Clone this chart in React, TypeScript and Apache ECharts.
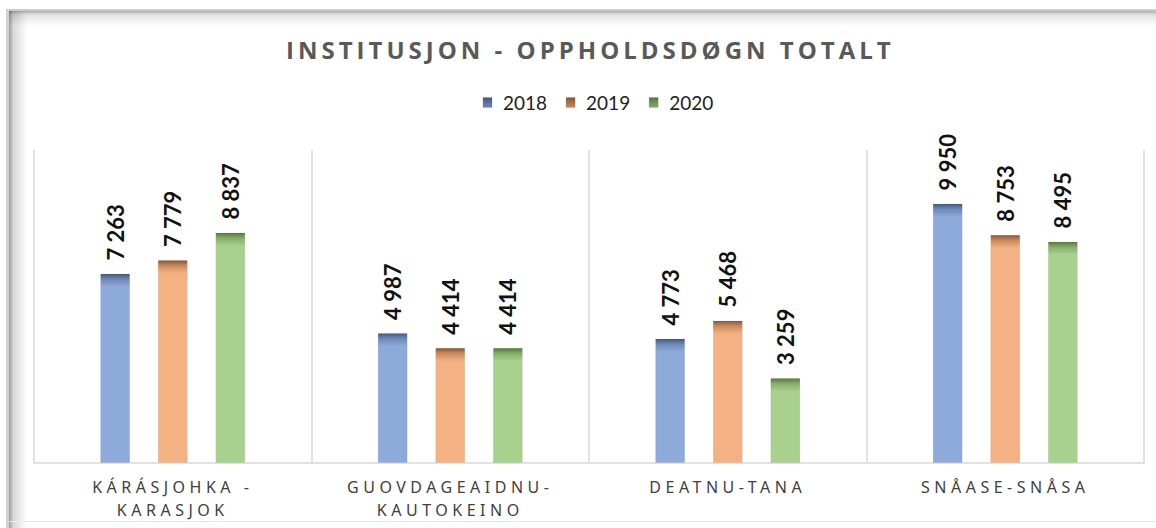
import React, { useEffect, useRef } from "react";
import * as echarts from "echarts";

const titleText = "INSTITUSJON - OPPHOLDSDØGN TOTALT";
const categories = ["KÁRÁSJOHKA -\nKARASJOK", "GUOVDAGEAIDNU-\nKAUTOKEINO", "DEATNU-TANA", "SNÅASE-SNÅSA"];
const years = ["2018", "2019", "2020"];
const values2018 = [7263, 4987, 4773, 9950];
const values2019 = [7779, 4414, 5468, 8753];
const values2020 = [8837, 4414, 3259, 8495];
const seriesValues = [values2018, values2019, values2020];

const yMax = 12000;
const gridTop = 150;
const gridBottom = 65;
const chartH = 528;
const plotH = chartH - gridTop - gridBottom;

const palettes = [
  { dark: "#46597f", mid: "#6f88b8", main: "#8eaadb" },
  { dark: "#8a5636", mid: "#c98a5e", main: "#f4b183" },
  { dark: "#557a3d", mid: "#86ad6c", main: "#a9d18e" },
];

const fmt = (v: number) => String(v).replace(/\B(?=(\d{3})+(?!\d))/g, " ");

function barGradient(v: number, p: { dark: string; mid: string; main: string }) {
  const px = (v / yMax) * plotH;
  const f = Math.min(1, 13 / px);
  return new echarts.graphic.LinearGradient(0, 0, 0, 1, [
    { offset: 0, color: p.dark },
    { offset: f * 0.4, color: p.mid },
    { offset: f, color: p.main },
    { offset: 1, color: p.main },
  ]);
}

export default function App() {
  const ref = useRef<HTMLDivElement>(null);
  useEffect(() => {
    if (!ref.current) return;
    const chart = echarts.init(ref.current, undefined, { renderer: "svg" });
    const series = years.map((y, si) => ({
      name: y,
      type: "bar",
      barWidth: 30,
      barGap: "92%",
      itemStyle: {
        color: new echarts.graphic.LinearGradient(0, 0, 0, 1, [
          { offset: 0, color: palettes[si].dark },
          { offset: 1, color: palettes[si].mid },
        ]),
        borderColor: "rgba(0,0,0,0.06)",
        borderWidth: 1,
      },
      label: {
        show: true,
        position: "top",
        rotate: 90,
        align: "left",
        verticalAlign: "middle",
        distance: 13,
        fontFamily: "Lato",
        fontWeight: "bold",
        fontSize: 22,
        color: "#111111",
        formatter: (p: any) => fmt(p.value),
      },
      data: seriesValues[si].map((v) => ({
        value: v,
        itemStyle: { color: barGradient(v, palettes[si]) },
      })),
    }));

    chart.setOption({
      animation: false,
      backgroundColor: "#ffffff",
      title: {
        text: titleText,
        left: 281,
        top: 32,
        textStyle: {
          fontFamily: "Open Sans",
          fontWeight: "bold",
          fontSize: 24,
          color: "#595959",
        },
      },
      legend: {
        data: years,
        left: 477,
        top: 88,
        itemWidth: 9,
        itemHeight: 10,
        itemGap: 18,
        icon: "rect",
        textStyle: {
          fontFamily: "Lato",
          fontSize: 19,
          color: "#222222",
          padding: [0, 0, 0, 6],
        },
      },
      grid: { left: 34, right: 12, top: gridTop, bottom: gridBottom, containLabel: false },
      xAxis: {
        type: "category",
        data: categories,
        axisLine: { show: true, lineStyle: { color: "#d9d9d9", width: 1.5 } },
        axisTick: { show: false },
        splitLine: { show: true, lineStyle: { color: "#d9d9d9", width: 1.5 } },
        axisLabel: {
          fontFamily: "Noto Sans",
          fontSize: 16,
          color: "#404040",
          margin: 12,
          lineHeight: 23,
          interval: 0,
        },
      },
      yAxis: {
        type: "value",
        min: 0,
        max: yMax,
        show: false,
        splitLine: { show: false },
      },
      graphic: [
        { type: "rect", shape: { x: 6, y: 9, width: 1150, height: 2 }, style: { fill: "#cccccc" }, silent: true },
        { type: "rect", shape: { x: 6, y: 9, width: 3, height: 519 }, style: { fill: "#d2d2d2" }, silent: true },
        {
          type: "rect",
          shape: { x: 9, y: 11, width: 18, height: 517 },
          style: {
            fill: new echarts.graphic.LinearGradient(0, 0, 1, 0, [
              { offset: 0, color: "rgba(0,0,0,0.38)" },
              { offset: 0.25, color: "rgba(0,0,0,0.15)" },
              { offset: 1, color: "rgba(0,0,0,0)" },
            ]),
          },
          silent: true,
        },
        {
          type: "rect",
          shape: { x: 9, y: 11, width: 1147, height: 15 },
          style: {
            fill: new echarts.graphic.LinearGradient(0, 0, 0, 1, [
              { offset: 0, color: "rgba(0,0,0,0.32)" },
              { offset: 0.25, color: "rgba(0,0,0,0.12)" },
              { offset: 1, color: "rgba(0,0,0,0)" },
            ]),
          },
          silent: true,
        },
        { type: "rect", shape: { x: 9, y: 521, width: 1147, height: 1 }, style: { fill: "#e8e8e8" }, silent: true },
      ],
      series,
    });
    return () => chart.dispose();
  }, []);

  return (
    <>
      <style>{`
        .chartbox text[style*="Open Sans"] { letter-spacing: 4px; }
        .chartbox text[style*="Noto Sans"] { letter-spacing: 4.5px; }
      `}</style>
      <div
        ref={ref}
        className="chartbox"
        style={{ position: "absolute", left: 0, top: 0, width: 1156, height: 528 }}
      />
    </>
  );
}
